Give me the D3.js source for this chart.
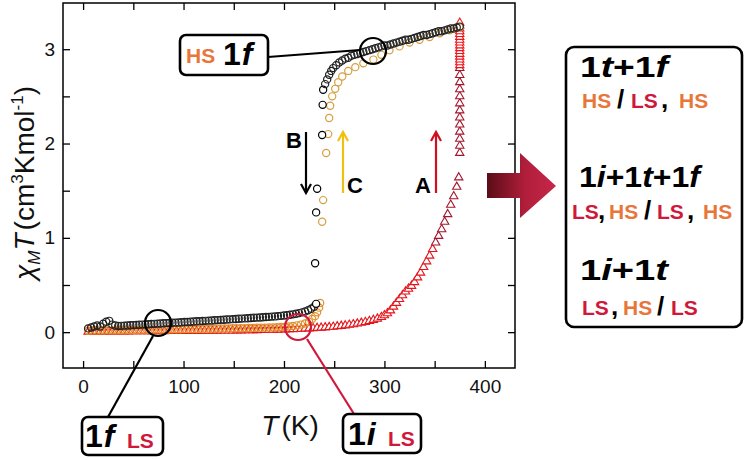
<!DOCTYPE html>
<html><head><meta charset="utf-8">
<script src="https://cdn.jsdelivr.net/npm/d3@7"></script>
<style>body{margin:0;background:#fff}svg{display:block;font-family:"Liberation Sans",Arial,sans-serif}</style>
</head><body>
<svg id="c" width="745" height="460"></svg>
<script>
// ---------- data ----------
const xMajorTicks = [0, 100, 200, 300, 400];
const xMinorTicks = [50, 150, 250, 350];
const yMajorTicks = [0, 1, 2, 3];
const yMinorTicks = [0.5, 1.5, 2.5];

// 1f, cooling (B) – black circles
const blackLowT = [5,8,11,14,17,20,23,26,29,32,35,38,41,44,47,50,53,56,59,62,65,68,71,74,77,80,83,86,89,92,95,98,101,104,107,110,113,116,119,122,125,128,131,134,137,140,143,146,149,152,155,158,161,164,167,170,173,176,179,182,185,188,191,194,197,200,203,206,209,212,215,218,221,224,227,230];
const blackLowV = [0.04,0.05,0.06,0.07,0.06,0.09,0.11,0.12,0.08,0.07,0.065,0.067,0.069,0.071,0.073,0.075,0.077,0.079,0.080,0.082,0.084,0.086,0.088,0.090,0.092,0.094,0.096,0.098,0.100,0.101,0.103,0.105,0.107,0.109,0.111,0.113,0.115,0.117,0.119,0.120,0.122,0.124,0.126,0.128,0.130,0.132,0.134,0.136,0.138,0.140,0.142,0.144,0.146,0.148,0.150,0.152,0.154,0.156,0.158,0.160,0.162,0.165,0.167,0.170,0.173,0.176,0.180,0.184,0.189,0.195,0.202,0.210,0.220,0.232,0.248,0.27];
const blackJumpT = [232, 231, 232, 233, 238, 238.5, 239];
const blackJumpV = [0.30, 0.73, 1.27, 1.52, 2.09, 2.41, 2.57];
const blackHighT = [241,243,245,247,249,252,255,258,261,264,267,270,273,276,279,282,285,288,291,294,297,300,303,306,309,312,315,318,321,324,327,330,333,336,339,342,345,348,351,354,357,360,363,366,369,372,375];
const blackHighV = [2.63,2.68,2.73,2.77,2.80,2.83,2.86,2.88,2.90,2.91,2.93,2.94,2.95,2.96,2.97,2.98,2.99,3.00,3.01,3.02,3.03,3.04,3.04,3.05,3.06,3.07,3.08,3.09,3.10,3.10,3.11,3.12,3.13,3.14,3.15,3.15,3.16,3.17,3.18,3.19,3.19,3.20,3.21,3.22,3.22,3.23,3.24];

// 1f, heating (C) – gold circles
const goldLowT = [5,9,13,17,21,25,29,33,37,41,45,49,53,57,61,65,69,73,77,81,85,89,93,97,101,105,109,113,117,121,125,129,133,137,141,145,149,153,157,161,165,169,173,177,181,185,189,193,197,201,205,209,213,217,221,225,228,231,233,235,236];
const goldLowV = [0.015,0.016,0.016,0.017,0.018,0.019,0.019,0.020,0.021,0.021,0.022,0.023,0.024,0.024,0.025,0.026,0.026,0.027,0.028,0.029,0.029,0.030,0.031,0.031,0.032,0.033,0.034,0.034,0.035,0.036,0.036,0.037,0.038,0.039,0.039,0.040,0.041,0.042,0.042,0.043,0.044,0.045,0.046,0.047,0.048,0.049,0.050,0.052,0.054,0.056,0.06,0.065,0.072,0.08,0.092,0.11,0.14,0.17,0.21,0.26,0.31];
const goldHighT = [238,239,242,244,245,246,248,251,254,258,264,271,279,289,297,305,315,325,335,345,355,365,375];
const goldHighV = [1.17,1.40,1.90,2.10,2.27,2.40,2.50,2.58,2.65,2.71,2.77,2.81,2.85,2.89,2.94,2.99,3.03,3.07,3.10,3.13,3.17,3.20,3.23];

// 1i, heating (A) – red triangles
const redLowT = [5,9,13,17,21,25,29,33,37,41,45,49,53,57,61,65,69,73,77,81,85,89,93,97,101,105,109,113,117,121,125,129,133,137,141,145,149,153,157,161,165,169,173,177,181,185,189,193,197,201,205,209,213,217,221,225,229,233,237,241,245,249,253,257,261,265,269,273,277,281,285,289,293,297,300,303,306,309,312,315,318,321,324,327,330,333,336,339,342,345,348];
const redLowV = [0.004,0.004,0.005,0.005,0.005,0.006,0.006,0.006,0.007,0.007,0.007,0.008,0.008,0.008,0.009,0.009,0.009,0.010,0.010,0.010,0.011,0.011,0.011,0.012,0.012,0.012,0.013,0.013,0.013,0.014,0.014,0.015,0.015,0.016,0.016,0.017,0.017,0.018,0.018,0.019,0.020,0.020,0.021,0.022,0.023,0.024,0.025,0.026,0.027,0.028,0.030,0.031,0.033,0.035,0.037,0.039,0.041,0.044,0.047,0.050,0.053,0.057,0.061,0.066,0.071,0.077,0.083,0.090,0.098,0.107,0.117,0.129,0.143,0.160,0.178,0.20,0.23,0.27,0.31,0.35,0.39,0.43,0.46,0.49,0.53,0.58,0.63,0.69,0.75,0.81,0.88];
const redDarkT = [351,354,357,360,363,366,369,372,374,375,375,375,375,375,375,375,375,375,375,375,375,375];
const redDarkV = [0.95,1.02,1.09,1.17,1.25,1.35,1.44,1.54,1.64,1.90,1.975,2.05,2.125,2.20,2.275,2.35,2.425,2.50,2.575,2.65,2.725,2.80];
const redTopT = [375,375,375,375,375,375,375,375,375,375,375,375,375,375,375,375];
const redTopV = [2.83,2.86,2.89,2.92,2.95,2.98,3.01,3.04,3.07,3.10,3.13,3.16,3.19,3.22,3.25,3.28];

// ---------- drawing ----------
const svg = d3.select("#c");
const x = d3.scaleLinear().domain([-20, 430]).range([63, 515]);
const y = d3.scaleLinear().domain([-0.38, 3.49]).range([368, 3]);
const ORANGE = "#e8763a", RED = "#d0183a";
const FONT = '"Liberation Sans", Arial, sans-serif';

const xTicks = xMajorTicks.concat(xMinorTicks);
const yTicks = yMajorTicks.concat(yMinorTicks);
function styleAxis(g){
  g.select(".domain").remove();
  g.selectAll(".tick line").attr("stroke","#000").attr("stroke-width",1.3);
  g.selectAll(".tick text").attr("fill","#111").attr("font-size",19).attr("font-family",FONT);
}
svg.append("g").attr("transform","translate(0,368)")
  .call(d3.axisBottom(x).tickValues(xTicks).tickSize(-7).tickSizeOuter(0).tickPadding(12)
    .tickFormat(d => xMajorTicks.includes(d) ? d : "")).call(styleAxis);
svg.append("g").attr("transform","translate(0,3)")
  .call(d3.axisTop(x).tickValues(xTicks).tickSize(-7).tickSizeOuter(0).tickFormat("")).call(styleAxis);
svg.append("g").attr("transform","translate(63,0)")
  .call(d3.axisLeft(y).tickValues(yTicks).tickSize(-7).tickSizeOuter(0).tickPadding(8)
    .tickFormat(d => yMajorTicks.includes(d) ? d : "")).call(styleAxis);
svg.append("g").attr("transform","translate(515,0)")
  .call(d3.axisRight(y).tickValues(yTicks).tickSize(-7).tickSizeOuter(0).tickFormat("")).call(styleAxis);
svg.append("rect").attr("x",63).attr("y",3).attr("width",452).attr("height",365)
  .attr("fill","none").attr("stroke","#000").attr("stroke-width",1.5);

// axis titles
const xt = svg.append("text").attr("x",290).attr("y",435).attr("text-anchor","middle")
  .attr("font-size",28).attr("font-family",FONT).attr("fill","#111");
xt.append("tspan").attr("font-style","italic").text("T");
xt.append("tspan").attr("dx",3).text("(K)");

const yt = svg.append("text").attr("transform","translate(34,183) rotate(-90)").attr("text-anchor","middle")
  .attr("font-size",28).attr("font-family",FONT).attr("fill","#111");
yt.append("tspan").attr("font-style","italic").text("χ");
yt.append("tspan").attr("font-style","italic").attr("font-size",17).attr("dy",6).text("M");
yt.append("tspan").attr("font-style","italic").attr("dy",-6).text("T");
yt.append("tspan").attr("dx",3).text("(cm");
yt.append("tspan").attr("font-size",17).attr("dy",-11).text("3");
yt.append("tspan").attr("dy",11).text("Kmol");
yt.append("tspan").attr("font-size",17).attr("dy",-11).text("-1");
yt.append("tspan").attr("dy",11).text(")");

// series
const tri = d3.symbol().type(d3.symbolTriangle).size(30);
function triangles(T, V, color){
  svg.append("g").selectAll("path").data(d3.zip(T, V)).join("path")
    .attr("d", tri).attr("transform", d => `translate(${x(d[0])},${y(d[1])})`)
    .attr("fill","#fff").attr("stroke",color).attr("stroke-width",1.1);
}
function circles(T, V, color, fill){
  svg.append("g").selectAll("circle").data(d3.zip(T, V)).join("circle")
    .attr("cx", d => x(d[0])).attr("cy", d => y(d[1])).attr("r",3.6)
    .attr("fill",fill).attr("stroke",color).attr("stroke-width",1.2);
}
triangles(redLowT, redLowV, "#e3141b");
triangles(redDarkT, redDarkV, "#a3172e");
triangles(redTopT, redTopV, "#f0141b");
circles(goldLowT, goldLowV, "#e0902a", "none");
circles(goldHighT, goldHighV, "#d4a040", "#fff");
circles(blackLowT, blackLowV, "#222", "none");
circles(blackJumpT, blackJumpV, "#000", "#fff");
circles(blackHighT, blackHighV, "#222", "none");

// arrows A, B, C
function arrow(xp, y1, y2, color){ // from y1 to y2 (head at y2)
  svg.append("line").attr("x1",xp).attr("x2",xp).attr("y1",y1).attr("y2",y2)
    .attr("stroke",color).attr("stroke-width",2.2);
  const s = y2 > y1 ? -1 : 1;
  svg.append("path").attr("d",`M${xp-5},${y2+s*9} L${xp},${y2} L${xp+5},${y2+s*9}`)
    .attr("fill","none").attr("stroke",color).attr("stroke-width",2.2);
}
arrow(306, 132, 193, "#000");
arrow(343, 193, 132, "#f0c010");
arrow(436, 193, 132, "#d01020");
function label(t, xp, yp){
  svg.append("text").attr("x",xp).attr("y",yp).attr("text-anchor","middle").attr("font-size",22)
    .attr("font-weight","bold").attr("font-family",FONT).attr("fill","#000").text(t);
}
label("B", 294, 148);
label("C", 355, 193);
label("A", 423, 193);

// highlight circles & boxes
function box(x0, y0, w, h){
  svg.append("rect").attr("x",x0).attr("y",y0).attr("width",w).attr("height",h).attr("rx",6)
    .attr("fill","#fff").attr("stroke","#000").attr("stroke-width",2.6);
}
// HS 1f
svg.append("line").attr("x1",268).attr("y1",57).attr("x2",360).attr("y2",50).attr("stroke","#000").attr("stroke-width",2.2);
svg.append("circle").attr("cx",373).attr("cy",51).attr("r",13).attr("fill","none").attr("stroke","#000").attr("stroke-width",2.2);
box(180, 35, 88, 40);
svg.append("text").attr("x",186).attr("y",63).attr("font-size",21).attr("font-weight","bold")
  .attr("font-family",FONT).attr("fill",ORANGE).text("HS");
const t1 = svg.append("text").attr("x",223).attr("y",65).attr("font-size",32).attr("font-weight","bold")
  .attr("font-family",FONT).attr("fill","#000");
t1.append("tspan").text("1"); t1.append("tspan").attr("font-style","italic").attr("dx",1).text("f");

// 1f LS
svg.append("line").attr("x1",108).attr("y1",417).attr("x2",153).attr("y2",336).attr("stroke","#000").attr("stroke-width",2.2);
svg.append("circle").attr("cx",158).attr("cy",323).attr("r",13).attr("fill","none").attr("stroke","#000").attr("stroke-width",2.2);
box(82, 417, 81, 38);
const t2 = svg.append("text").attr("x",85).attr("y",447).attr("font-size",32).attr("font-weight","bold")
  .attr("font-family",FONT).attr("fill","#000");
t2.append("tspan").text("1"); t2.append("tspan").attr("font-style","italic").attr("dx",1).text("f");
svg.append("text").attr("x",127).attr("y",448).attr("font-size",21).attr("font-weight","bold")
  .attr("font-family",FONT).attr("fill",RED).text("LS");

// 1i LS
svg.append("line").attr("x1",307).attr("y1",339).attr("x2",354).attr("y2",414).attr("stroke",RED).attr("stroke-width",2.2);
svg.append("circle").attr("cx",298).attr("cy",327).attr("r",13).attr("fill","none").attr("stroke",RED).attr("stroke-width",2.2);
box(343, 414, 78, 39);
const t3 = svg.append("text").attr("x",348).attr("y",445).attr("font-size",32).attr("font-weight","bold")
  .attr("font-family",FONT).attr("fill","#000");
t3.append("tspan").text("1"); t3.append("tspan").attr("font-style","italic").attr("dx",1).text("i");
svg.append("text").attr("x",388).attr("y",446).attr("font-size",21).attr("font-weight","bold")
  .attr("font-family",FONT).attr("fill",RED).text("LS");

// big gradient arrow
const defs = svg.append("defs");
const grad = defs.append("linearGradient").attr("id","ag").attr("gradientUnits","userSpaceOnUse")
  .attr("x1",487).attr("x2",556).attr("y1",0).attr("y2",0);
grad.append("stop").attr("offset","0%").attr("stop-color","#5a0c18");
grad.append("stop").attr("offset","55%").attr("stop-color","#b01e3a");
grad.append("stop").attr("offset","100%").attr("stop-color","#c8264a");
svg.append("path").attr("d","M487,173 L520,173 L520,153 L556,186 L520,218 L520,198 L487,198 Z")
  .attr("fill","url(#ag)");

// right box
svg.append("rect").attr("x",566).attr("y",47).attr("width",176).attr("height",280).attr("rx",8)
  .attr("fill","#fff").attr("stroke","#000").attr("stroke-width",2.6);

function bigLine(xp, yp, parts, len){
  const t = svg.append("text").attr("x",xp).attr("y",yp).attr("font-size",29).attr("font-weight","bold")
    .attr("font-family",FONT).attr("fill","#000").attr("textLength",len).attr("lengthAdjust","spacingAndGlyphs");
  parts.forEach(p => t.append("tspan").attr("font-style", p[1] ? "italic" : "normal").text(p[0]));
}
bigLine(580, 77, [["1",0],["t",1],["+",0],["1",0],["f",1]], 88);
bigLine(579, 187, [["1",0],["i",1],["+",0],["1",0],["t",1],["+",0],["1",0],["f",1]], 121);
bigLine(580, 280, [["1",0],["i",1],["+",0],["1",0],["t",1]], 88);

function smallLine(yp, parts){
  parts.forEach(p => {
    const isPunct = p[0] === "/" || p[0] === ",";
    svg.append("text").attr("x",p[1]).attr("y",yp).attr("font-size", isPunct ? 26 : 21)
      .attr("font-weight","bold").attr("font-family",FONT)
      .attr("fill", p[0] === "HS" ? ORANGE : p[0] === "LS" ? RED : "#000").text(p[0]);
  });
}
smallLine(108, [["HS",582],["/",617],["LS",631],[",",661],["HS",679]]);
smallLine(219, [["LS",572],[",",598],["HS",609],["/",644],["LS",657],[",",687],["HS",703]]);
smallLine(315, [["LS",582],[",",611],["HS",623],["/",657],["LS",671]]);
</script>
</body></html>
